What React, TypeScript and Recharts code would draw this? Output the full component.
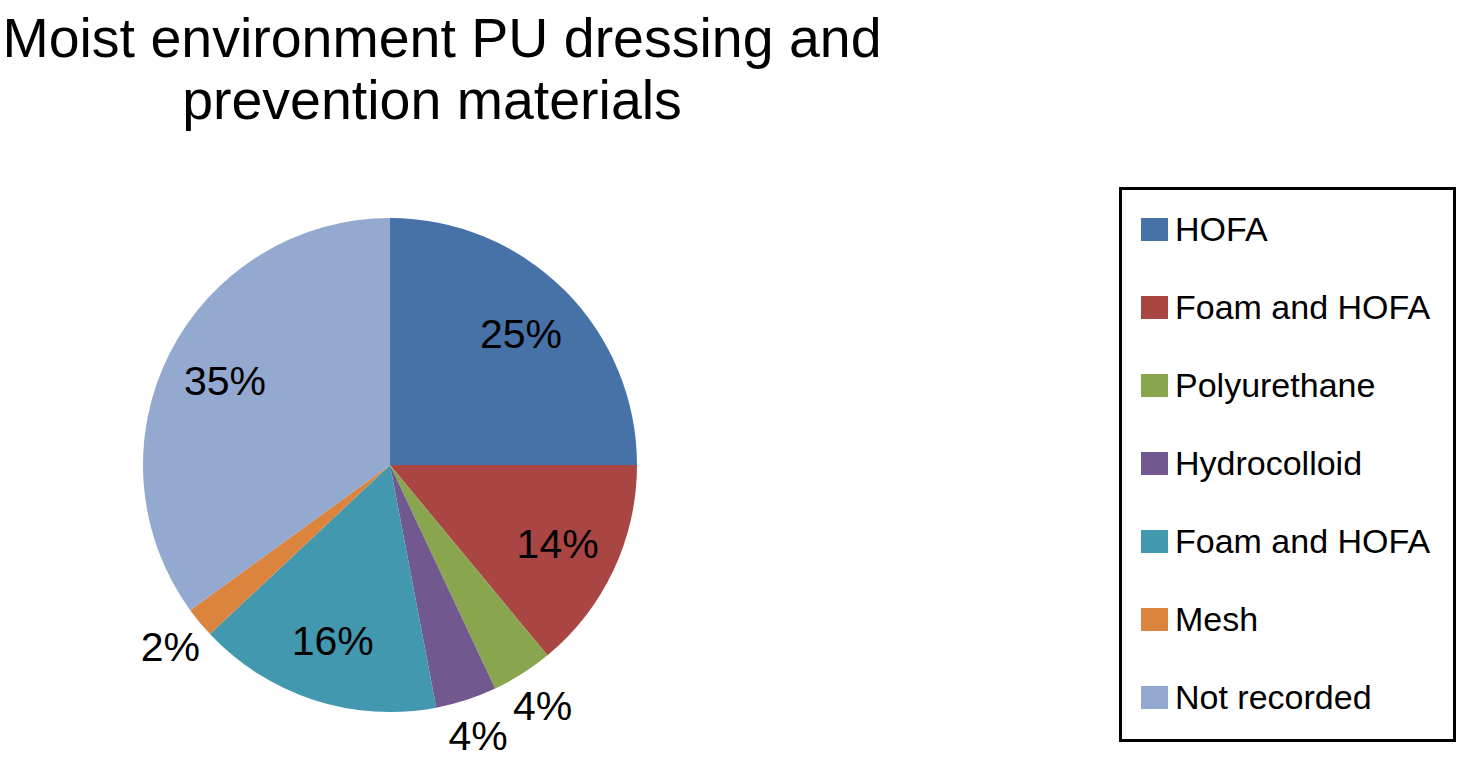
import { Cell, Legend, Pie, PieChart } from "recharts";

const categories = ["HOFA", "Foam and HOFA", "Polyurethane", "Hydrocolloid", "Foam and HOFA", "Mesh", "Not recorded"];
const shares = [25, 14, 4, 4, 16, 2, 35];
const COLORS = ["#4672A8", "#A94643", "#89A54E", "#71588F", "#4198AF", "#DB843D", "#93A9CF"];
const titleLines = ["Moist environment PU dressing and", "prevention materials"];

const data = categories.map((name, i) => ({ name, value: shares[i], key: `s${i}` }));

const FONT = "'Liberation Sans', Arial, Helvetica, sans-serif";
const RADIAN = Math.PI / 180;

function renderLabel(props: any) {
  const { cx, cy, midAngle, outerRadius, percent } = props;
  const r = percent < 0.05 ? outerRadius + 38 : outerRadius * 0.75;
  const x = cx + r * Math.cos(-midAngle * RADIAN);
  const y = cy + r * Math.sin(-midAngle * RADIAN);
  return (
    <text x={x} y={y} textAnchor="middle" dominantBaseline="central" fontSize={41} fontFamily={FONT} fill="#000">
      {`${Math.round(percent * 100)}%`}
    </text>
  );
}

function LegendBox({ payload }: any) {
  return (
    <div
      style={{
        width: "100%",
        height: "100%",
        boxSizing: "border-box",
        border: "3px solid #000",
        paddingLeft: 19,
        fontFamily: FONT,
        background: "#fff",
      }}
    >
      {(payload || []).map((p: any, i: number) => (
        <div key={i} style={{ height: 78, display: "flex", alignItems: "center" }}>
          <span style={{ width: 27, height: 23, background: p.color, display: "inline-block", flexShrink: 0 }} />
          <span style={{ marginLeft: 7, fontSize: 34, color: "#000", whiteSpace: "nowrap" }}>{p.value}</span>
        </div>
      ))}
    </div>
  );
}

export default function App() {
  return (
    <div style={{ position: "absolute", left: 0, top: 0, width: 1460, height: 762, background: "#fff" }}>
      {titleLines.map((line, i) => (
        <div
          key={i}
          style={{
            position: "absolute",
            left: i === 0 ? 0 : -10,
            top: 7 + i * 62,
            width: 884,
            textAlign: "center",
            whiteSpace: "nowrap",
            fontFamily: FONT,
            fontSize: 55.5,
            lineHeight: "62px",
            color: "#000",
          }}
        >
          {line}
        </div>
      ))}
      <PieChart width={1460} height={762} margin={{ top: 0, right: 0, bottom: 0, left: 0 }}>
        <Pie
          data={data}
          dataKey="value"
          nameKey="name"
          cx={390}
          cy={465}
          outerRadius={247}
          startAngle={90}
          endAngle={-270}
          stroke="none"
          label={renderLabel}
          labelLine={false}
          isAnimationActive={false}
        >
          {data.map((d, i) => (
            <Cell key={d.key} fill={COLORS[i]} />
          ))}
        </Pie>
        <Legend
          layout="vertical"
          itemSorter={null}
          content={<LegendBox />}
          wrapperStyle={{ position: "absolute", left: 1119, top: 187, width: 337, height: 555 }}
        />
      </PieChart>
    </div>
  );
}
